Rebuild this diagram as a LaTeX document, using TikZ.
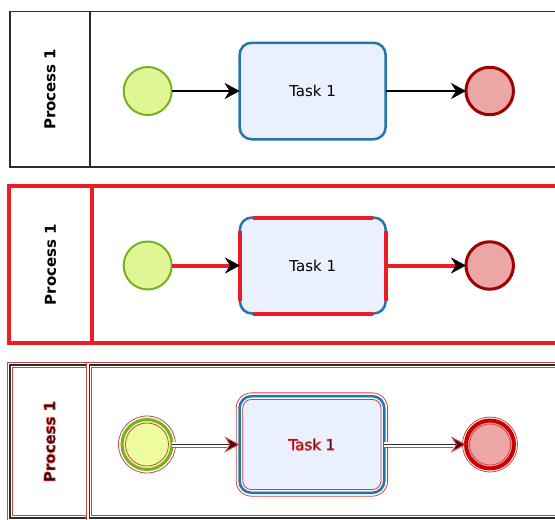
\documentclass[tikz,border=0pt]{standalone}
\usepackage{fontspec}
\setmainfont{DejaVu Sans}
\usetikzlibrary{arrows.meta,calc}
\definecolor{laneGray}{RGB}{45,45,45}
\definecolor{startFill}{RGB}{224,246,148}
\definecolor{startLine}{RGB}{118,178,32}
\definecolor{taskFill}{RGB}{234,240,253}
\definecolor{taskLine}{RGB}{36,118,168}
\definecolor{endFill}{RGB}{236,166,166}
\definecolor{endLine}{RGB}{160,0,0}
\definecolor{hiRed}{RGB}{237,28,36}
\definecolor{ghostRed}{RGB}{205,70,70}
\definecolor{ghostDark}{RGB}{30,5,5}
\definecolor{startFill3}{RGB}{238,252,160}
\definecolor{endLine3}{RGB}{205,0,0}
\newcommand{\ghosttext}[1]{\special{pdf:literal direct 2 Tr 0.7 w 0.85 0.2 0.2 RG}#1\special{pdf:literal direct 0 Tr}}
\begin{document}
\begin{tikzpicture}[x=1pt,y=-1pt,
  font=\fontsize{15pt}{17pt}\selectfont,
  lanebox/.style={rectangle,draw=laneGray,line width=1.4pt,inner sep=0pt},
  hilane/.style={rectangle,draw=hiRed,line width=4pt,inner sep=0pt},
  ghostlane/.style={rectangle,draw=laneGray,line width=1.3pt,inner sep=0pt,
    preaction={draw=ghostRed,line width=5.8pt},
    preaction={draw=white,line width=4.2pt}},
  lanelabel/.style={rotate=90,font=\fontsize{15pt}{17pt}\selectfont\bfseries,inner sep=0pt},
  startev/.style={circle,draw=startLine,fill=startFill,line width=2pt,minimum size=48pt,inner sep=0pt,outer sep=0pt},
  endev/.style={circle,draw=endLine,fill=endFill,line width=3pt,minimum size=47.5pt,inner sep=0pt,outer sep=0pt},
  taskbox/.style={rectangle,rounded corners=12pt,draw=taskLine,fill=taskFill,line width=2.5pt,
    minimum width=146pt,minimum height=96.5pt,inner sep=0pt,outer sep=0pt},
  flow/.style={draw=black,line width=1.2pt,
    -{Stealth[length=15pt,width=16pt,inset=5pt,line width=0.5pt]}},
  hiflow/.style={draw=hiRed,line width=4pt,
    -{Stealth[length=15pt,width=16pt,inset=5pt,line width=0.5pt,color=black,fill=black]}},
  ghostband/.style={draw=ghostRed,line width=6pt,shorten >=13pt},
  ghostgap/.style={draw=white,line width=4.2pt,shorten >=13pt},
  ghostflow/.style={draw=laneGray,line width=1.5pt,
    -{Stealth[length=15pt,width=16pt,inset=5pt,line width=1pt,color=ghostRed,fill=black!70!red]}},
  ghostline/.style={draw=ghostRed,line width=0.8pt},
  hiedge/.style={draw=hiRed,line width=4pt}
]
\useasboundingbox (0,0) rectangle (555,520);
\clip (0,0) rectangle (555,520);

% ---------- panel 1 ----------
\node[lanebox,minimum width=80pt,minimum height=155.5pt] (h1) at (50,89.25) {};
\node[lanebox,minimum width=520pt,minimum height=155.5pt] (b1) at (350,89.25) {};
\node[lanelabel] (p1) at (h1.center) {Process 1};
\node[startev] (s1) at (147.7,91) {};
\node[taskbox] (t1) at (312.6,91) {Task 1};
\node[endev] (e1) at (489.7,91) {};
\draw[flow] (s1) -- (t1);
\draw[flow] (t1) -- (e1);

% ---------- panel 2 ----------
\node[hilane,minimum width=82.4pt,minimum height=157.3pt] (h2) at (50.5,264.65) {};
\node[hilane,minimum width=518.3pt,minimum height=157.3pt] (b2) at (350.85,264.65) {};
\node[lanelabel] (p2) at (h2.center) {Process 1};
\node[startev] (s2) at (147.7,265.5) {};
\node[taskbox,minimum width=145.7pt,minimum height=96pt] (t2) at (312.8,265.5) {Task 1};
\node[endev] (e2) at (489.7,265.5) {};
\draw[hiedge] ([xshift=13pt]t2.north west) -- ([xshift=-13pt]t2.north east);
\draw[hiedge] ([xshift=13pt]t2.south west) -- ([xshift=-13pt]t2.south east);
\draw[hiedge] ([yshift=-13pt]t2.north west) -- ([yshift=13pt]t2.south west);
\draw[hiedge] ([yshift=-13pt]t2.north east) -- ([yshift=13pt]t2.south east);
\draw[hiflow] (s2) -- (t2);
\draw[hiflow] (t2) -- (e2);

% ---------- panel 3 ----------
\node[ghostlane,minimum width=79.3pt,minimum height=153pt] (h3) at (49.65,441.5) {};
\node[ghostlane,minimum width=520.7pt,minimum height=153pt] (b3) at (349.65,441.5) {};
\node[lanelabel,text=ghostDark] (p3) at (h3.center) {\ghosttext{Process 1}};
\node[startev,fill=startFill3,line width=3pt,minimum size=50pt] (s3) at (147,444.5) {};
\draw[ghostline] (s3.center) circle[radius=28.5];
\draw[ghostline] (s3.center) circle[radius=21.5];
\node[taskbox,minimum width=144.8pt,minimum height=96.7pt,text=ghostDark] (t3) at (311.9,444.5) {\ghosttext{Task 1}};
\draw[ghostline,rounded corners=15.3pt] ([xshift=-3.3pt,yshift=3.3pt]t3.north west) rectangle ([xshift=3.3pt,yshift=-3.3pt]t3.south east);
\draw[ghostline,rounded corners=8.7pt] ([xshift=3.3pt,yshift=-3.3pt]t3.north west) rectangle ([xshift=-3.3pt,yshift=3.3pt]t3.south east);
\node[endev,draw=endLine3,line width=4pt,minimum size=48pt] (e3) at (490,444.5) {};
\draw[ghostline] (e3.center) circle[radius=27.5];
\draw[ghostline] (e3.center) circle[radius=20.5];
\draw[ghostband] (s3) -- (t3);
\draw[ghostgap] (s3) -- (t3);
\draw[ghostflow] (s3) -- (t3);
\draw[ghostband] (t3) -- (e3);
\draw[ghostgap] (t3) -- (e3);
\draw[ghostflow] (t3) -- (e3);
\end{tikzpicture}
\end{document}
